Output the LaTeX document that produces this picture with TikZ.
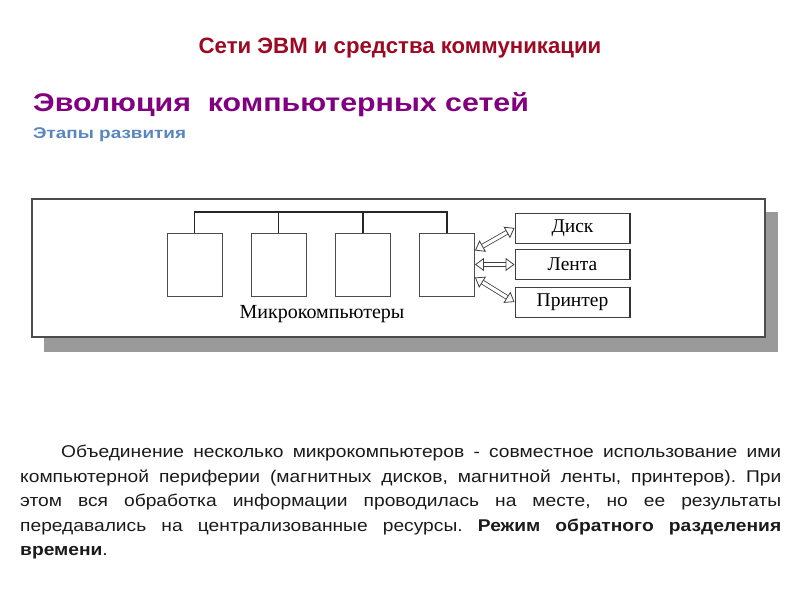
\documentclass[tikz,border=0pt]{standalone}
\usepackage{fontspec}
\setmainfont{Liberation Sans}
\newfontfamily\serifru{Liberation Serif}
\newfontfamily\headfont[FakeStretch=1.19]{Liberation Sans}
\newfontfamily\subfont[FakeStretch=1.22]{Liberation Sans}
\newfontfamily\parafont[FakeStretch=1.13]{Liberation Sans}
\usetikzlibrary{arrows.meta,calc}
\definecolor{titlered}{HTML}{9B0A22}
\definecolor{headpurple}{HTML}{800080}
\definecolor{subblue}{HTML}{5A86BE}
\definecolor{shadowgray}{HTML}{9A9A9A}
\definecolor{txt}{HTML}{1A1A1A}
\tikzset{
  micro/.style={draw=black!70, line width=0.9pt, minimum width=55pt, minimum height=63pt, inner sep=0pt},
  periph/.style={draw=black!75, line width=0.9pt, minimum width=115pt, minimum height=30pt, inner sep=0pt, font=\serifru\fontsize{19.5}{22}\selectfont},
  bus/.style={line width=1.3pt, black!85},
  dblarrow/.style={double=white, double distance=3.2pt, line width=0.8pt, draw=black!75,
    {Triangle[open,length=9pt,width=13pt]}-{Triangle[open,length=9pt,width=13pt]}}
}
\begin{document}
\begin{tikzpicture}[x=1pt,y=-1pt]
\useasboundingbox (0,0) rectangle (800,600);
% titles
\node[anchor=base, font=\bfseries\fontsize{22.2}{26}\selectfont, text=titlered, inner sep=0] (title) at (400,53) {Сети ЭВМ и средства коммуникации};
\node[anchor=base west, font=\headfont\bfseries\fontsize{25.5}{30}\selectfont, text=headpurple, inner sep=0] (head) at (33,111) {Эволюция\ \ компьютерных сетей};
\node[anchor=base west, font=\subfont\bfseries\fontsize{15.5}{18}\selectfont, text=subblue, inner sep=0] (sub) at (33,138) {Этапы развития};
% frame with shadow
\fill[shadowgray] (44,212) rectangle (778,352);
\draw[fill=white, draw=black!70, line width=1.3pt] (32,199) rectangle (765,337);
% microcomputers
\node[micro] (m1) at (194.5,264.5) {};
\node[micro] (m2) at (278.5,264.5) {};
\node[micro] (m3) at (363,264.5) {};
\node[micro] (m4) at (447,264.5) {};
\coordinate (b1) at (194.5,212);
\coordinate (b4) at (447,212);
\draw[bus] (m1.north) -- (b1) -- (b4) -- (m4.north);
\draw[bus] (m2.north) -- (m2.north |- b1);
\draw[bus] (m3.north) -- (m3.north |- b1);
\node[font=\serifru\fontsize{20}{23}\selectfont, inner sep=0] (lbl) at (322,314) {Микрокомпьютеры};
% peripherals
\node[periph] (disk) at (572.5,228) {Диск};
\node[periph] (tape) at (572.5,264.5) {Лента};
\node[periph] (prn) at (572.5,302) {Принтер};
\foreach \n in {disk,tape,prn}{
  \draw[line width=2pt, black!80] (\n.north east) -- (\n.south east);
}
\draw[dblarrow] ([yshift=14pt]m4.east) -- (disk.west);
\draw[dblarrow] (m4.east) -- (tape.west);
\draw[dblarrow] ([yshift=-13pt]m4.east) -- (prn.west);
% paragraph
\node[anchor=north west, inner sep=0, text width=761pt, align=justify, text=txt,
  font=\parafont\fontsize{17}{24.5}\selectfont] (para) at (20,445)
{\frenchspacing\hspace*{41pt}Объединение несколько микрокомпьютеров - совместное использование ими\linebreak
компьютерной периферии (магнитных дисков, магнитной ленты, принтеров). При\linebreak
этом вся обработка информации проводилась на месте, но ее результаты\linebreak
передавались на централизованные ресурсы. \textbf{Режим обратного разделения}\linebreak
\textbf{времени}.};
\end{tikzpicture}
\end{document}
